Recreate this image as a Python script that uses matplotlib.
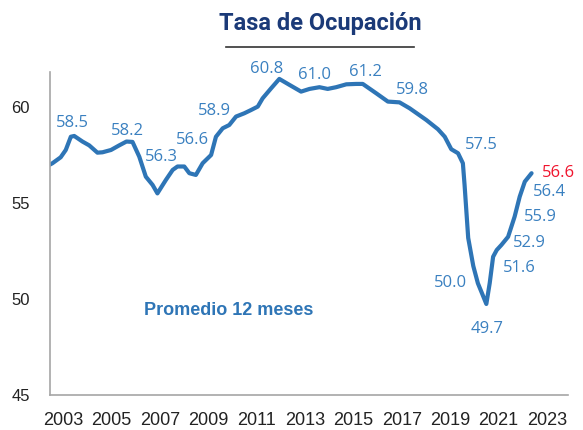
import matplotlib
matplotlib.use("Agg")
import matplotlib.pyplot as plt
from matplotlib.lines import Line2D

# 12-month average employment rate (decimal year, %)
years = [2002.35, 2002.56, 2002.90, 2003.11, 2003.32, 2003.46, 2003.80, 2004.08,
         2004.42, 2004.63, 2004.98, 2005.32, 2005.62, 2005.87, 2006.15, 2006.42,
         2006.70, 2006.90, 2007.25, 2007.53, 2007.73, 2008.01, 2008.22, 2008.49,
         2008.77, 2009.12, 2009.32, 2009.60, 2009.87, 2010.15, 2010.49, 2010.77,
         2011.05, 2011.25, 2011.60, 2011.94, 2012.36, 2012.84, 2013.19, 2013.60,
         2013.94, 2014.29, 2014.71, 2015.12, 2015.39, 2015.95, 2016.43, 2016.91,
         2017.33, 2018.02, 2018.50, 2018.78, 2019.05, 2019.33, 2019.53, 2019.60,
         2019.75, 2019.96, 2020.15, 2020.30, 2020.50, 2020.64, 2020.78, 2020.93,
         2021.12, 2021.40, 2021.67, 2021.88, 2022.09, 2022.37]
tasa = [56.93, 57.07, 57.38, 57.76, 58.45, 58.49, 58.20, 58.00,
        57.62, 57.64, 57.76, 58.00, 58.20, 58.18, 57.41, 56.37,
        55.94, 55.50, 56.20, 56.72, 56.90, 56.90, 56.55, 56.46,
        57.07, 57.50, 58.45, 58.89, 59.06, 59.50, 59.67, 59.84,
        60.02, 60.45, 60.97, 61.46, 61.15, 60.80, 60.94, 61.03,
        60.94, 61.03, 61.18, 61.20, 61.20, 60.71, 60.28, 60.24,
        59.93, 59.32, 58.84, 58.45, 57.80, 57.59, 57.07, 55.94,
        53.18, 51.72, 50.82, 50.36, 49.74, 50.83, 52.20, 52.55,
        52.81, 53.24, 54.29, 55.33, 56.11, 56.55]

# value labels: text, anchor year, anchor value
lbl_text = ["58.5", "58.2", "56.3", "56.6", "58.9", "60.8", "61.0", "61.2",
            "59.8", "57.5", "50.0", "49.7", "51.6", "52.9", "55.9", "56.4", "56.6"]
lbl_x = [2003.39, 2005.66, 2007.05, 2008.35, 2009.25, 2011.42, 2013.39, 2015.50,
         2017.46, 2020.30, 2019.02, 2020.52, 2021.85, 2022.30, 2022.74, 2023.12, 2023.50]
lbl_y = [59.15, 58.77, 57.41, 58.28, 59.81, 61.98, 61.67, 61.84,
         60.89, 58.02, 50.85, 48.44, 51.60, 52.93, 54.29, 55.56, 56.58]

xticks = list(range(2003, 2024, 2))
yticks = [45, 50, 55, 60]

blue = "#2E75B6"
red = "#F0142D"
narrow = ["Liberation Sans Narrow", "Liberation Sans"]

fig = plt.figure(figsize=(5.83, 4.30), dpi=100)
ax = fig.add_axes([0.085, 0.0814, 0.889, 0.752])

ax.plot(years, tasa, color=blue, lw=3.0, solid_capstyle="round")

for i, t in enumerate(lbl_text):
    ax.text(lbl_x[i], lbl_y[i], t, ha="center", va="center", fontsize=12,
            color=red if i == len(lbl_text) - 1 else "#3A80C0",
            family=["Open Sans", "DejaVu Sans"], clip_on=False)

ax.text(2009.86, 49.4, "Promedio 12 meses", ha="center", va="center",
        fontsize=13, fontweight="bold", color=blue, family=narrow)

ax.set_xlim(2002.44, 2023.87)
ax.set_ylim(45, 61.84)
ax.set_xticks(xticks)
ax.set_xticklabels([str(y) for y in xticks], family=narrow, fontsize=13)
ax.set_yticks(yticks)
ax.set_yticklabels([str(y) for y in yticks], family=narrow, fontsize=12)
ax.tick_params(length=0, pad=12, colors="#222222")
ax.tick_params(axis="y", pad=14)
for s in ["top", "right"]:
    ax.spines[s].set_visible(False)
for s in ["left", "bottom"]:
    ax.spines[s].set_color("#A6A6A6")
    ax.spines[s].set_linewidth(1.2)

fig.text(0.549, 0.945, "Tasa de Ocupación", ha="center", va="center",
         fontsize=17, fontweight="bold", color="#1B3A78",
         family=["Roboto", "Liberation Sans"])
fig.add_artist(Line2D([0.388, 0.710], [0.891, 0.891], color="#333333", lw=1.2,
                      transform=fig.transFigure))

fig.savefig("out.png", dpi=100)
